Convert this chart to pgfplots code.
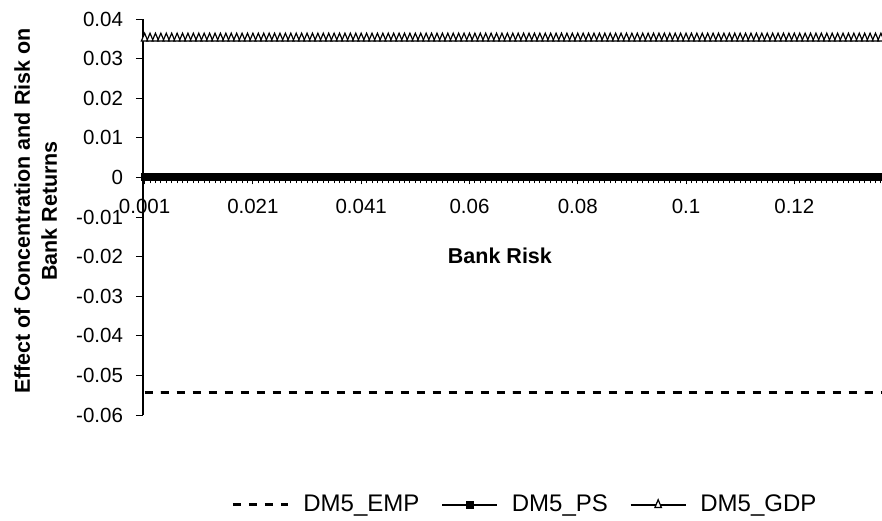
\documentclass[border=0pt]{standalone}
\usepackage{pgfplots}
\usepackage{pgfplotstable}
\pgfplotsset{compat=1.18}
\usepackage{fontspec}
\setmainfont{Liberation Sans}

% x = category index (0 -> 0.001, 1 -> 0.002, ...)
\pgfplotstableread{
x emp ps gdp
0 -0.0543 0 0.0351
1 -0.0543 0 0.0351
2 -0.0543 0 0.0351
3 -0.0543 0 0.0351
4 -0.0543 0 0.0351
5 -0.0543 0 0.0351
6 -0.0543 0 0.0351
7 -0.0543 0 0.0351
8 -0.0543 0 0.0351
9 -0.0543 0 0.0351
10 -0.0543 0 0.0351
11 -0.0543 0 0.0351
12 -0.0543 0 0.0351
13 -0.0543 0 0.0351
14 -0.0543 0 0.0351
15 -0.0543 0 0.0351
16 -0.0543 0 0.0351
17 -0.0543 0 0.0351
18 -0.0543 0 0.0351
19 -0.0543 0 0.0351
20 -0.0543 0 0.0351
21 -0.0543 0 0.0351
22 -0.0543 0 0.0351
23 -0.0543 0 0.0351
24 -0.0543 0 0.0351
25 -0.0543 0 0.0351
26 -0.0543 0 0.0351
27 -0.0543 0 0.0351
28 -0.0543 0 0.0351
29 -0.0543 0 0.0351
30 -0.0543 0 0.0351
31 -0.0543 0 0.0351
32 -0.0543 0 0.0351
33 -0.0543 0 0.0351
34 -0.0543 0 0.0351
35 -0.0543 0 0.0351
36 -0.0543 0 0.0351
37 -0.0543 0 0.0351
38 -0.0543 0 0.0351
39 -0.0543 0 0.0351
40 -0.0543 0 0.0351
41 -0.0543 0 0.0351
42 -0.0543 0 0.0351
43 -0.0543 0 0.0351
44 -0.0543 0 0.0351
45 -0.0543 0 0.0351
46 -0.0543 0 0.0351
47 -0.0543 0 0.0351
48 -0.0543 0 0.0351
49 -0.0543 0 0.0351
50 -0.0543 0 0.0351
51 -0.0543 0 0.0351
52 -0.0543 0 0.0351
53 -0.0543 0 0.0351
54 -0.0543 0 0.0351
55 -0.0543 0 0.0351
56 -0.0543 0 0.0351
57 -0.0543 0 0.0351
58 -0.0543 0 0.0351
59 -0.0543 0 0.0351
60 -0.0543 0 0.0351
61 -0.0543 0 0.0351
62 -0.0543 0 0.0351
63 -0.0543 0 0.0351
64 -0.0543 0 0.0351
65 -0.0543 0 0.0351
66 -0.0543 0 0.0351
67 -0.0543 0 0.0351
68 -0.0543 0 0.0351
69 -0.0543 0 0.0351
70 -0.0543 0 0.0351
71 -0.0543 0 0.0351
72 -0.0543 0 0.0351
73 -0.0543 0 0.0351
74 -0.0543 0 0.0351
75 -0.0543 0 0.0351
76 -0.0543 0 0.0351
77 -0.0543 0 0.0351
78 -0.0543 0 0.0351
79 -0.0543 0 0.0351
80 -0.0543 0 0.0351
81 -0.0543 0 0.0351
82 -0.0543 0 0.0351
83 -0.0543 0 0.0351
84 -0.0543 0 0.0351
85 -0.0543 0 0.0351
86 -0.0543 0 0.0351
87 -0.0543 0 0.0351
88 -0.0543 0 0.0351
89 -0.0543 0 0.0351
90 -0.0543 0 0.0351
91 -0.0543 0 0.0351
92 -0.0543 0 0.0351
93 -0.0543 0 0.0351
94 -0.0543 0 0.0351
95 -0.0543 0 0.0351
96 -0.0543 0 0.0351
97 -0.0543 0 0.0351
98 -0.0543 0 0.0351
99 -0.0543 0 0.0351
100 -0.0543 0 0.0351
101 -0.0543 0 0.0351
102 -0.0543 0 0.0351
103 -0.0543 0 0.0351
104 -0.0543 0 0.0351
105 -0.0543 0 0.0351
106 -0.0543 0 0.0351
107 -0.0543 0 0.0351
108 -0.0543 0 0.0351
109 -0.0543 0 0.0351
110 -0.0543 0 0.0351
111 -0.0543 0 0.0351
112 -0.0543 0 0.0351
113 -0.0543 0 0.0351
114 -0.0543 0 0.0351
115 -0.0543 0 0.0351
116 -0.0543 0 0.0351
117 -0.0543 0 0.0351
118 -0.0543 0 0.0351
119 -0.0543 0 0.0351
120 -0.0543 0 0.0351
121 -0.0543 0 0.0351
122 -0.0543 0 0.0351
123 -0.0543 0 0.0351
124 -0.0543 0 0.0351
125 -0.0543 0 0.0351
126 -0.0543 0 0.0351
127 -0.0543 0 0.0351
128 -0.0543 0 0.0351
129 -0.0543 0 0.0351
130 -0.0543 0 0.0351
131 -0.0543 0 0.0351
132 -0.0543 0 0.0351
133 -0.0543 0 0.0351
134 -0.0543 0 0.0351
135 -0.0543 0 0.0351
136 -0.0543 0 0.0351
}\datatable

\begin{document}
\begin{tikzpicture}
\useasboundingbox (0,0) rectangle (441pt,260pt);
\begin{axis}[
  at={(71.5pt,52.5pt)}, anchor=south west,
  scale only axis, width=369.5pt, height=198pt,
  axis x line=middle, axis y line=left,
  axis line style={-, black, line width=0.6pt},
  xmin=-0.3, xmax=136.2,
  ymin=-0.06, ymax=0.04,
  scaled y ticks=false,
  hide obscured x ticks=false, hide obscured y ticks=false,
  xtick={0,20,40,60,80,100,120},
  xticklabels={0.001,0.021,0.041,0.06,0.08,0.1,0.12},
  minor xtick={0,1,...,136},
  ytick={-0.06,-0.05,-0.04,-0.03,-0.02,-0.01,0,0.01,0.02,0.03,0.04},
  yticklabels={-0.06,-0.05,-0.04,-0.03,-0.02,-0.01,0,0.01,0.02,0.03,0.04},
  tick align=outside,
  major tick length=3.5pt, minor tick length=3pt,
  tick style={black, line width=0.5pt},
  ticklabel style={font=\fontsize{10.25}{12}\selectfont},
  xticklabel style={yshift=-4pt},
  yticklabel style={xshift=-3pt},
  xlabel={Bank Risk},
  xlabel style={at={(axis description cs:0.483,0.4015)}, anchor=center, font=\bfseries\fontsize{10.75}{13}\selectfont},
  ylabel={Effect of Concentration and Risk on\\Bank Returns},
  ylabel style={at={(axis description cs:-0.1452,0.515)}, anchor=center, align=center, font=\bfseries\fontsize{10.75}{13.5}\selectfont},
  legend columns=3,
  legend style={draw=none, fill=none, at={(axis description cs:0.119,-0.227)}, anchor=west, inner sep=0pt,
    font=\fontsize{12}{14}\selectfont,
    /tikz/every odd column/.append style={column sep=5pt},
    /tikz/every even column/.append style={column sep=9pt}},
  legend image code/.code={\draw[mark repeat=2,mark phase=2,#1] plot coordinates {(0pt,0pt) (13.75pt,0pt) (27.5pt,0pt)};},
]
\addplot[black, line width=1.5pt, dash pattern=on 4pt off 4pt] table[x=x, y=emp] {\datatable};
\addlegendentry{DM5\_EMP}
\addplot[black, line width=0.75pt, mark=square*, mark size=1.6pt, mark options={solid, fill=black}] table[x=x, y=ps] {\datatable};
\addlegendentry{DM5\_PS}
\addplot[black, line width=0.75pt, mark=triangle*, mark size=2.6pt, mark options={solid, fill=white, line width=0.6pt, xscale=0.72}] table[x=x, y=gdp] {\datatable};
\addlegendentry{DM5\_GDP}
\end{axis}
\end{tikzpicture}
\end{document}
